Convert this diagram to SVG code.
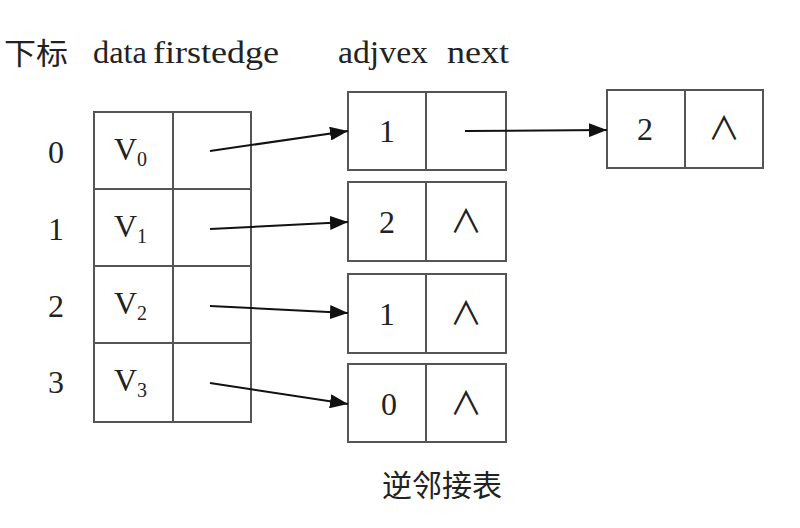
<svg xmlns="http://www.w3.org/2000/svg" width="800" height="528" viewBox="0 0 800 528">
<style>
.box{fill:none;stroke:#555;stroke-width:2}
.t{font-family:"Liberation Serif","Noto Sans CJK SC",serif;font-size:32px;fill:#222}
.h{font-size:31px}
.c{text-anchor:middle}
.cjk{font-family:"Noto Sans CJK SC","Liberation Serif",sans-serif;font-size:30px;fill:#222}
.sub{font-size:20px}
.edge{stroke:#111;stroke-width:2;fill:none;marker-end:url(#ah)}
</style>
<defs>
<marker id="ah" viewBox="0 0 18 14" refX="18" refY="7" markerWidth="18" markerHeight="14" markerUnits="userSpaceOnUse" orient="auto">
<path d="M0,0 L18,7 L0,14 Z" fill="#111"/>
</marker>
</defs>
<rect width="800" height="528" fill="#fff"/>
<g id="header">
<text class="cjk" x="4" y="64" textLength="64" lengthAdjust="spacingAndGlyphs">下标</text>
<text class="t h" x="93" y="63" textLength="54" lengthAdjust="spacingAndGlyphs">data</text>
<text class="t h" x="153" y="63" textLength="126" lengthAdjust="spacingAndGlyphs">firstedge</text>
<text class="t h" x="338" y="63" textLength="90" lengthAdjust="spacingAndGlyphs">adjvex</text>
<text class="t h" x="447" y="63" textLength="62" lengthAdjust="spacingAndGlyphs">next</text>
</g>
<g id="indices">
<text class="t c" x="56" y="163">0</text>
<text class="t c" x="56" y="240">1</text>
<text class="t c" x="56" y="317">2</text>
<text class="t c" x="56" y="393">3</text>
</g>
<g id="vertexTable">
<rect class="box" x="94" y="112" width="157" height="310"/>
<line class="box" x1="173" y1="112" x2="173" y2="422"/>
<line class="box" x1="94" y1="189" x2="251" y2="189"/>
<line class="box" x1="94" y1="266" x2="251" y2="266"/>
<line class="box" x1="94" y1="343" x2="251" y2="343"/>
<text class="t" x="114" y="160">V<tspan class="sub" dy="6">0</tspan></text>
<text class="t" x="114" y="237">V<tspan class="sub" dy="6">1</tspan></text>
<text class="t" x="114" y="314">V<tspan class="sub" dy="6">2</tspan></text>
<text class="t" x="114" y="391">V<tspan class="sub" dy="6">3</tspan></text>
</g>
<g id="node0">
<rect class="box" x="348" y="92" width="158" height="78"/>
<line class="box" x1="426" y1="92" x2="426" y2="170"/>
<text class="t c" x="387" y="142">1</text>
</g>
<g id="node1">
<rect class="box" x="348" y="182" width="158" height="79"/>
<line class="box" x1="426" y1="182" x2="426" y2="261"/>
<text class="t c" x="387" y="233">2</text>
<text class="t c" x="466" y="233">∧</text>
</g>
<g id="node2">
<rect class="box" x="348" y="274" width="158" height="79"/>
<line class="box" x1="426" y1="274" x2="426" y2="353"/>
<text class="t c" x="387" y="325">1</text>
<text class="t c" x="466" y="325">∧</text>
</g>
<g id="node3">
<rect class="box" x="348" y="364" width="158" height="78"/>
<line class="box" x1="426" y1="364" x2="426" y2="442"/>
<text class="t c" x="389" y="415">0</text>
<text class="t c" x="466" y="415">∧</text>
</g>
<g id="node4">
<rect class="box" x="607" y="90" width="156" height="78"/>
<line class="box" x1="685" y1="90" x2="685" y2="168"/>
<text class="t c" x="645" y="140">2</text>
<text class="t c" x="724" y="140">∧</text>
</g>
<g id="connectors">
<line class="edge" x1="210" y1="151" x2="348" y2="131"/>
<line class="edge" x1="210" y1="229" x2="348" y2="222"/>
<line class="edge" x1="210" y1="306" x2="348" y2="313"/>
<line class="edge" x1="210" y1="383" x2="348" y2="404"/>
<line class="edge" x1="465" y1="131" x2="607" y2="130"/>
</g>
<g id="caption">
<text class="cjk c" x="442" y="496">逆邻接表</text>
</g>
</svg>
